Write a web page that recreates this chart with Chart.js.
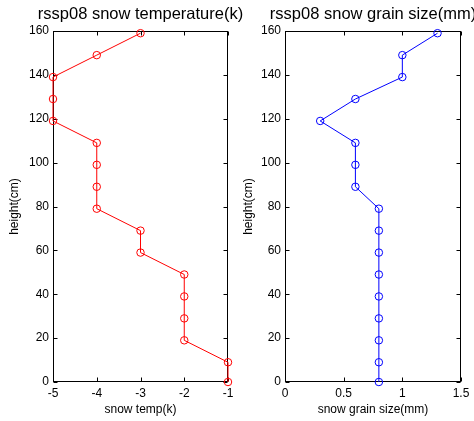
<!DOCTYPE html>
<html>
<head>
<meta charset="utf-8">
<script src="https://cdn.jsdelivr.net/npm/chart.js@4"></script>
<style>
  body { margin: 0; background: #fff; }
  #wrap { position: relative; width: 474px; height: 421px; overflow: hidden; }
  canvas { position: absolute; top: 0; }
</style>
</head>
<body>
<div id="wrap">
  <canvas id="tempChart" width="260" height="421" style="left:0"></canvas>
  <canvas id="grainChart" width="240" height="421" style="left:234px"></canvas>
</div>
<script>
// Snow pit rssp08: layer heights and measurements
const heights = [0, 9, 19, 29, 39, 49, 59, 69, 79, 89, 99, 109, 119, 129, 139, 149, 159];
const snowTemp = [-1, -1, -2, -2, -2, -2, -3, -3, -4, -4, -4, -4, -5, -5, -5, -4, -3];
const grainSize = [0.8, 0.8, 0.8, 0.8, 0.8, 0.8, 0.8, 0.8, 0.8, 0.6, 0.6, 0.6, 0.3, 0.6, 1.0, 1.0, 1.3];

const heightTicks = [0, 20, 40, 60, 80, 100, 120, 140, 160];
const tempTicks = [-5, -4, -3, -2, -1];
const grainTicks = [0, 0.5, 1, 1.5];

const FONT = 'Arial, "Liberation Sans", sans-serif';

// box with inward ticks on all four sides, plus titles
const framePlugin = {
  id: 'frame',
  beforeDatasetsDraw(chart, args, opts) {
    const { ctx, chartArea: a, scales: { x, y } } = chart;
    const L = Math.round(a.left) + 0.5, R = Math.round(a.right) - 0.5;
    const T = Math.round(a.top) + 0.5, B = Math.round(a.bottom) - 0.5;
    ctx.save();
    ctx.strokeStyle = '#000';
    ctx.lineWidth = 1;
    ctx.strokeRect(L, T, R - L, B - T);
    ctx.beginPath();
    x.ticks.forEach(t => {
      const px = Math.round(x.getPixelForValue(t.value)) + 0.5;
      ctx.moveTo(px, B); ctx.lineTo(px, B - 4);
      ctx.moveTo(px, T); ctx.lineTo(px, T + 4);
    });
    y.ticks.forEach(t => {
      const py = Math.round(y.getPixelForValue(t.value)) + 0.5;
      ctx.moveTo(L, py); ctx.lineTo(L + 4, py);
      ctx.moveTo(R, py); ctx.lineTo(R - 4, py);
    });
    ctx.stroke();
    ctx.restore();
  },
  afterDraw(chart, args, opts) {
    const { ctx, chartArea: a } = chart;
    const cx = (a.left + a.right) / 2;
    ctx.save();
    ctx.fillStyle = '#000';
    ctx.textAlign = 'center';
    ctx.textBaseline = 'middle';
    ctx.font = '16.5px ' + FONT;
    ctx.fillText(opts.title, cx, 14);
    ctx.font = '12px ' + FONT;
    ctx.fillText(opts.xLabel, cx, 410);
    ctx.translate(15, (a.top + a.bottom) / 2);
    ctx.rotate(-Math.PI / 2);
    ctx.fillText(opts.yLabel, 0, 0);
    ctx.restore();
  }
};

function profileChart(id, values, color, xTicks, yWidth, padRight, title, xLabel) {
  return new Chart(document.getElementById(id), {
    type: 'scatter',
    data: {
      datasets: [{
        data: values.map((v, i) => ({ x: v, y: heights[i] })),
        showLine: true,
        borderColor: color,
        borderWidth: 1,
        pointStyle: 'circle',
        pointRadius: 3.75,
        pointBorderWidth: 1,
        pointBorderColor: color,
        pointBackgroundColor: 'rgba(0,0,0,0)',
        clip: false
      }]
    },
    options: {
      responsive: false,
      animation: false,
      devicePixelRatio: 1,
      layout: { padding: { left: 0, right: padRight, top: 31, bottom: 0 } },
      plugins: {
        legend: { display: false },
        tooltip: { enabled: false },
        frame: { title: title, xLabel: xLabel, yLabel: 'height(cm)' }
      },
      scales: {
        x: {
          type: 'linear',
          min: xTicks[0],
          max: xTicks[xTicks.length - 1],
          afterBuildTicks: s => { s.ticks = xTicks.map(v => ({ value: v })); },
          afterFit: s => { s.height = 39; },
          grid: { display: false, drawTicks: false },
          border: { display: false },
          ticks: {
            padding: 4,
            maxRotation: 0,
            autoSkip: false,
            color: '#000',
            font: { family: FONT, size: 12 },
            callback: v => String(v)
          }
        },
        y: {
          type: 'linear',
          min: 0,
          max: 160,
          afterBuildTicks: s => { s.ticks = heightTicks.map(v => ({ value: v })); },
          afterFit: s => { s.width = yWidth; },
          grid: { display: false, drawTicks: false },
          border: { display: false },
          ticks: {
            padding: 4,
            autoSkip: false,
            color: '#000',
            font: { family: FONT, size: 12 },
            callback: v => String(v)
          }
        }
      }
    },
    plugins: [framePlugin]
  });
}

profileChart('tempChart', snowTemp, '#ff0000', tempTicks, 53, 32,
  'rssp08 snow temperature(k)', 'snow temp(k)');
profileChart('grainChart', grainSize, '#0000ff', grainTicks, 51, 13,
  'rssp08 snow grain size(mm)', 'snow grain size(mm)');
</script>
</body>
</html>
